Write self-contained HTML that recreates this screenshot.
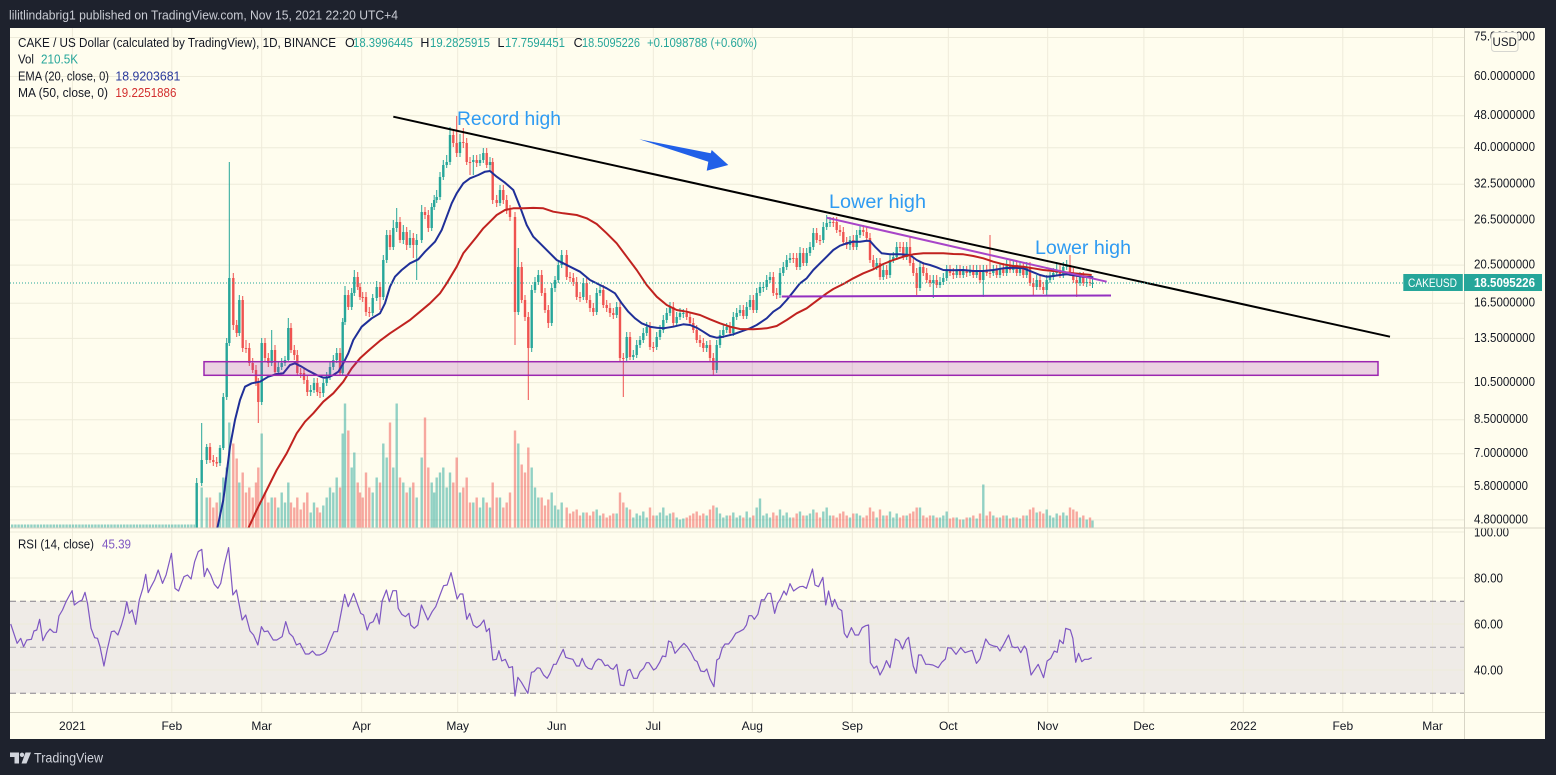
<!DOCTYPE html>
<html><head><meta charset="utf-8">
<style>
html,body{margin:0;padding:0;background:#1e222d;overflow:hidden}
svg{display:block}
text{font-family:"Liberation Sans",sans-serif}
</style></head>
<body>
<svg xmlns="http://www.w3.org/2000/svg" width="1556" height="775" viewBox="0 0 1556 775">
<defs>
<clipPath id="pp"><rect x="10" y="28" width="1454" height="500"/></clipPath>
<clipPath id="rp"><rect x="10" y="528" width="1454" height="184"/></clipPath>
<clipPath id="ra"><rect x="1464" y="528.5" width="81" height="184"/></clipPath>
</defs>
<rect width="1556" height="775" fill="#1e222d"/>
<rect x="10" y="28" width="1535" height="711" fill="#fffdee"/>

<rect x="10" y="601.3" width="1454" height="92" fill="#efebe7"/>

<path d="M10 37.5H1464M10 76.5H1464M10 115.7H1464M10 147.7H1464M10 184.2H1464M10 220H1464M10 265.1H1464M10 303.2H1464M10 338.4H1464M10 382.6H1464M10 419.7H1464M10 453.7H1464M10 486.7H1464M10 519.9H1464M10 532H1464M10 578H1464M10 624H1464M10 670H1464" stroke="#eeebda" stroke-width="1" fill="none"/>
<path d="M72.4 28V712M171.8 28V712M261.7 28V712M361.7 28V712M457.7 28V712M556.7 28V712M653.3 28V712M752.3 28V712M852.3 28V712M948.3 28V712M1047.7 28V712M1143.9 28V712M1243.3 28V712M1342.8 28V712M1432.6 28V712" stroke="#eeebda" stroke-width="1" fill="none"/>

<path d="M10 601.3H1464M10 693.3H1464" stroke="#85828c" stroke-width="1" stroke-dasharray="6 4" fill="none"/>
<path d="M10 647.3H1464" stroke="#a9a6ad" stroke-width="1" stroke-dasharray="6 4" fill="none"/>

<g clip-path="url(#pp)">
<!-- volume -->
<line x1="11" y1="526" x2="195" y2="526" stroke="rgba(38,166,154,0.5)" stroke-width="3" stroke-dasharray="2.4 0.8"/>
<path fill="none" stroke="rgba(38,166,154,0.5)" stroke-width="2.4" d="M196.7 527.5V502.5M201.7 527.5V487.5M206.7 527.5V497.5M220 527.5V492.5M223.3 527.5V477.5M226.7 527.5V467.5M229.3 527.5V422.5M239.3 527.5V482.5M261.7 527.5V433.5M271.7 527.5V497.5M278.3 527.5V507.5M281.7 527.5V492.5M285 527.5V502.5M288.3 527.5V482.5M310.7 527.5V512.5M314 527.5V502.5M323.3 527.5V505.5M326.7 527.5V497.5M330 527.5V487.5M333.3 527.5V492.5M336.7 527.5V477.5M342.7 527.5V433.5M345 527.5V403.5M351.7 527.5V467.5M354.3 527.5V452.5M372.7 527.5V492.5M376.7 527.5V477.5M383.3 527.5V443.5M386.7 527.5V457.5M393.3 527.5V467.5M396.7 527.5V403.5M403.3 527.5V482.5M410 527.5V487.5M416.7 527.5V497.5M421.7 527.5V457.5M431.7 527.5V482.5M434.2 527.5V492.5M436.7 527.5V477.5M440 527.5V472.5M443.3 527.5V467.5M446.7 527.5V487.5M450 527.5V472.5M460 527.5V492.5M473.3 527.5V502.5M480 527.5V507.5M483.3 527.5V497.5M490 527.5V507.5M500 527.5V497.5M518.3 527.5V443.5M531.7 527.5V467.5M535 527.5V487.5M538.3 527.5V497.5M551.7 527.5V492.5M555 527.5V505.5M558.3 527.5V509.5M561.7 527.5V502.5M583.3 527.5V512.5M596.7 527.5V509.5M600 527.5V515.5M616.7 527.5V513.5M626.7 527.5V507.5M633.3 527.5V517.5M636.7 527.5V513.5M640 527.5V515.5M643.3 527.5V511.5M646.7 527.5V517.5M656.7 527.5V515.5M660 527.5V512.5M663.3 527.5V507.5M666.7 527.5V515.5M670 527.5V513.5M676.7 527.5V517.5M680 527.5V519.5M683.3 527.5V518.5M706.7 527.5V515.5M716.7 527.5V507.5M720 527.5V513.5M723.3 527.5V517.5M726.7 527.5V515.5M733.3 527.5V512.5M736.7 527.5V517.5M740 527.5V515.5M746.7 527.5V511.5M750 527.5V517.5M756.7 527.5V507.5M760 527.5V498.5M763.3 527.5V515.5M766.7 527.5V513.5M770 527.5V517.5M780 527.5V509.5M783.3 527.5V515.5M786.7 527.5V512.5M790 527.5V517.5M800 527.5V511.5M806.7 527.5V515.5M810 527.5V513.5M813.3 527.5V509.5M823.3 527.5V511.5M826.7 527.5V507.5M830 527.5V515.5M850 527.5V517.5M856.7 527.5V513.5M860 527.5V515.5M876.7 527.5V517.5M883.3 527.5V515.5M890 527.5V511.5M893.3 527.5V517.5M896.7 527.5V513.5M906.7 527.5V515.5M920 527.5V507.5M933.3 527.5V515.5M940 527.5V517.5M943.3 527.5V515.5M946.7 527.5V511.5M956.7 527.5V517.5M963.3 527.5V519.5M970 527.5V517.5M976.7 527.5V518.5M983.3 527.5V484.5M993.3 527.5V515.5M1000 527.5V517.5M1006.7 527.5V515.5M1013.3 527.5V517.5M1020 527.5V518.5M1026.7 527.5V515.5M1036.7 527.5V512.5M1046.7 527.5V509.5M1050 527.5V515.5M1053.3 527.5V517.5M1056.7 527.5V513.5M1063.3 527.5V512.5M1066.7 527.5V515.5M1080 527.5V517.5M1086.7 527.5V519.5M1092.5 527.5V520.5"/>
<path fill="none" stroke="rgba(239,83,80,0.5)" stroke-width="2.4" d="M210 527.5V497.5M213.3 527.5V507.5M216.7 527.5V502.5M233.3 527.5V443.5M236.7 527.5V458.5M242.7 527.5V472.5M246 527.5V492.5M249.3 527.5V487.5M252.7 527.5V497.5M256 527.5V482.5M258.3 527.5V467.5M265 527.5V492.5M268.3 527.5V502.5M275 527.5V497.5M291 527.5V502.5M294.3 527.5V507.5M297.3 527.5V497.5M300.7 527.5V509.5M304 527.5V502.5M307.3 527.5V492.5M317.3 527.5V507.5M320 527.5V512.5M340 527.5V487.5M348.3 527.5V430.5M357.7 527.5V482.5M360 527.5V492.5M362.7 527.5V497.5M366 527.5V472.5M369.3 527.5V487.5M380 527.5V482.5M390 527.5V422.5M400 527.5V477.5M406.7 527.5V492.5M413.3 527.5V482.5M425 527.5V417.5M428.3 527.5V467.5M453.3 527.5V482.5M456.7 527.5V457.5M463.3 527.5V487.5M466.7 527.5V477.5M470 527.5V502.5M476.7 527.5V497.5M486.7 527.5V502.5M492.7 527.5V482.5M496.7 527.5V497.5M503.3 527.5V507.5M506.7 527.5V502.5M510 527.5V492.5M515 527.5V430.5M521.7 527.5V464.5M525 527.5V472.5M528.3 527.5V447.5M541.7 527.5V497.5M545 527.5V505.5M548.3 527.5V499.5M566.7 527.5V507.5M570 527.5V513.5M573.3 527.5V511.5M576.7 527.5V509.5M580 527.5V515.5M586.7 527.5V512.5M590 527.5V515.5M593.3 527.5V511.5M603.3 527.5V513.5M606.7 527.5V517.5M610 527.5V515.5M613.3 527.5V513.5M620 527.5V492.5M623.3 527.5V502.5M630 527.5V509.5M650 527.5V507.5M653.3 527.5V515.5M673.3 527.5V512.5M686.7 527.5V517.5M690 527.5V515.5M693.3 527.5V513.5M696.7 527.5V511.5M700 527.5V515.5M703.3 527.5V513.5M710 527.5V509.5M713.3 527.5V505.5M730 527.5V515.5M743.3 527.5V517.5M753.3 527.5V515.5M773.3 527.5V512.5M776.7 527.5V515.5M793.3 527.5V517.5M796.7 527.5V513.5M803.3 527.5V515.5M816.7 527.5V512.5M820 527.5V517.5M833.3 527.5V515.5M836.7 527.5V517.5M840 527.5V513.5M843.3 527.5V511.5M846.7 527.5V515.5M853.3 527.5V513.5M863.3 527.5V517.5M866.7 527.5V515.5M870 527.5V507.5M873.3 527.5V511.5M880 527.5V509.5M886.7 527.5V515.5M900 527.5V517.5M903.3 527.5V515.5M910 527.5V513.5M913.3 527.5V511.5M916.7 527.5V507.5M923.3 527.5V515.5M926.7 527.5V517.5M930 527.5V515.5M936.7 527.5V517.5M950 527.5V518.5M953.3 527.5V517.5M960 527.5V519.5M966.7 527.5V517.5M973.3 527.5V515.5M980 527.5V513.5M986.7 527.5V515.5M990 527.5V511.5M996.7 527.5V517.5M1003.3 527.5V515.5M1010 527.5V518.5M1016.7 527.5V517.5M1023.3 527.5V515.5M1030 527.5V509.5M1033.3 527.5V507.5M1040 527.5V511.5M1043.3 527.5V513.5M1060 527.5V515.5M1070 527.5V507.5M1073.3 527.5V509.5M1076.7 527.5V511.5M1083.3 527.5V515.5M1090 527.5V517.5"/>

<!-- green candles -->
<path fill="none" stroke="#26a69a" stroke-width="1" d="M196.7 478V540M201.7 423V486M206.7 444V464M220 445V466M223.3 393V450M226.7 338V400M229.3 162V346M239.3 295V336M261.7 338V405M271.7 330V366M278.3 362V376M281.7 358V370M285 356V366M288.3 318V362M310.7 385V396M314 378V393M323.3 379V397M326.7 372V386M330 362V380M333.3 355V370M336.7 348V363M342.7 318V376M345 286V325M351.7 288V310M354.3 270V296M372.7 294V316M376.7 281V301M383.3 255V300M386.7 230V263M393.3 220V250M396.7 208V232M403.3 225V244M410 230V248M416.7 234V280M421.7 205V243M431.7 203V231M434.2 195V210M436.7 190V203M440 172V200M443.3 160V180M446.7 155V168M450 127V165M460 134V157M473.3 155V175M480 154V166M483.3 148V163M490 157V170M500 185V206M518.3 248V315M531.7 285V352M535 277V293M538.3 270V285M551.7 283V326M555 276V292M558.3 260V283M561.7 250V268M583.3 278V300M596.7 288V315M600 285V296M616.7 302V318M626.7 332V362M633.3 350V360M636.7 340V358M640 336V348M643.3 328V343M646.7 322V336M656.7 332V350M660 325V340M663.3 315V333M666.7 308V323M670 302V316M676.7 312V326M680 308V320M683.3 309V318M706.7 341V352M716.7 340V373M720 330V348M723.3 325V338M726.7 323V333M733.3 312V336M736.7 308V320M740 305V316M746.7 302V319M750 295V310M756.7 288V313M760 282V296M763.3 282V292M766.7 275V290M770 272V283M780 268V298M783.3 262V276M786.7 255V270M790 253V263M800 247V270M806.7 248V266M810 242V256M813.3 228V250M823.3 222V243M826.7 215V230M830 217V227M850 236V250M856.7 230V250M860 225V238M876.7 258V270M883.3 265V280M890 255V278M893.3 252V263M896.7 242V260M906.7 242V260M920 262V291M933.3 275V298M940 277V288M943.3 273V285M946.7 265V281M956.7 265V278M963.3 266V278M970 265V276M976.7 265V278M983.3 265V297M993.3 265V276M1000 263V278M1006.7 260V276M1013.3 260V273M1020 262V276M1026.7 262V278M1036.7 275V290M1046.7 275V296M1050 272V283M1053.3 268V280M1056.7 262V276M1063.3 262V278M1066.7 260V270M1080 272V286M1086.7 277V287M1092.5 278V288"/>
<path fill="none" stroke="#26a69a" stroke-width="2.4" d="M196.7 483V540M201.7 460V483M206.7 447V460M220 448V463M223.3 397V448M226.7 343V397M229.3 278V343M239.3 300V333M261.7 343V402M271.7 350V363M278.3 367V372M281.7 363V367M285 360V363M288.3 328V360M310.7 390V392M314 383V390M323.3 383V393M326.7 377V383M330 367V377M333.3 360V367M336.7 353V360M342.7 322V373M345 295V322M351.7 293V307M354.3 277V293M372.7 298V313M376.7 287V298M383.3 260V297M386.7 235V260M393.3 228V247M396.7 222V228M403.3 232V240M410 238V245M416.7 240V245M421.7 212V240M431.7 207V228M434.2 200V207M436.7 197V200M440 177V197M443.3 165V177M446.7 162V165M450 135V162M460 142V153M473.3 160V162M480 160V163M483.3 153V160M490 162V165M500 190V203M518.3 267V312M531.7 290V348M535 282V290M538.3 275V282M551.7 288V323M555 280V288M558.3 265V280M561.7 255V265M583.3 283V297M596.7 293V312M600 290V293M616.7 307V315M626.7 337V358M633.3 355V357M636.7 345V355M640 340V345M643.3 333V340M646.7 327V333M656.7 337V347M660 330V337M663.3 320V330M666.7 313V320M670 307V313M676.7 317V323M680 313V317M683.3 313V314M706.7 345V348M716.7 345V370M720 335V345M723.3 330V335M726.7 327V330M733.3 317V333M736.7 313V317M740 310V313M746.7 307V316M750 300V307M756.7 293V310M760 287V293M763.3 287V288M766.7 280V287M770 277V280M780 273V295M783.3 267V273M786.7 260V267M790 258V260M800 253V267M806.7 253V263M810 247V253M813.3 233V247M823.3 227V240M826.7 223V227M830 222V223M850 240V245M856.7 235V247M860 230V235M876.7 263V267M883.3 270V277M890 260V275M893.3 257V260M896.7 247V257M906.7 247V257M920 267V288M933.3 280V283M940 282V285M943.3 278V282M946.7 270V278M956.7 270V275M963.3 271V275M970 270V273M976.7 270V275M983.3 270V280M993.3 270V273M1000 268V275M1006.7 265V273M1013.3 265V270M1020 267V273M1026.7 267V275M1036.7 280V287M1046.7 280V290M1050 277V280M1053.3 273V277M1056.7 270V273M1063.3 267V275M1066.7 265V267M1080 277V283M1086.7 282V283M1092.5 283V284"/>
<!-- red candles -->
<path fill="none" stroke="#ef5350" stroke-width="1" d="M210 443V463M213.3 455V466M216.7 457V467M233.3 273V330M236.7 320V337M242.7 296V352M246 340V353M249.3 343V366M252.7 358V373M256 365V386M258.3 378V423M265 338V361M268.3 353V367M275 345V375M291 323V353M294.3 345V360M297.3 350V376M300.7 368V378M304 368V384M307.3 375V396M317.3 378V396M320 387V398M340 348V376M348.3 290V310M357.7 272V290M360 283V300M362.7 292V302M366 292V316M369.3 307V317M380 282V310M390 230V250M400 217V243M406.7 227V250M413.3 233V258M425 207V219M428.3 210V232M453.3 130V147M456.7 116V157M463.3 128V148M466.7 138V165M470 157V175M476.7 155V167M486.7 148V168M492.7 158V204M496.7 195V207M503.3 185V204M506.7 195V214M510 205V221M515 212V345M521.7 262V303M525 295V321M528.3 312V400M541.7 270V296M545 288V313M548.3 305V328M566.7 250V280M570 272V282M573.3 273V286M576.7 277V300M580 292V302M586.7 278V303M590 295V312M593.3 303V316M603.3 285V308M606.7 300V312M610 303V317M613.3 308V319M620 302V362M623.3 353V397M630 332V360M650 322V350M653.3 342V352M673.3 302V326M686.7 308V320M690 312V326M693.3 318V333M696.7 325V343M700 335V347M703.3 338V352M710 340V362M713.3 353V376M730 322V336M743.3 305V319M753.3 295V313M773.3 272V296M776.7 288V299M793.3 253V263M796.7 253V270M803.3 248V266M816.7 228V243M820 235V245M833.3 217V227M836.7 217V233M840 225V236M843.3 227V245M846.7 237V249M853.3 235V250M863.3 225V236M866.7 227V241M870 233V263M873.3 255V270M880 258V280M886.7 265V279M900 242V252M903.3 242V260M910 236V266M913.3 258V276M916.7 268V295M923.3 262V276M926.7 268V283M930 275V287M936.7 275V288M950 265V276M953.3 268V279M960 265V278M966.7 266V277M973.3 265V278M980 265V283M986.7 265V276M990 235V278M996.7 265V278M1003.3 263V276M1010 260V273M1016.7 260V276M1023.3 262V278M1030 262V286M1033.3 278V296M1040 275V290M1043.3 282V294M1060 265V278M1070 255V276M1073.3 268V283M1076.7 275V297M1083.3 272V286M1090 277V286"/>
<path fill="none" stroke="#ef5350" stroke-width="2.4" d="M210 447V460M213.3 460V462M216.7 462V463.5M233.3 278V325M236.7 325V333M242.7 300V348M246 348V349M249.3 348V363M252.7 363V370M256 370V383M258.3 383V402M265 343V358M268.3 358V363M275 350V372M291 328V350M294.3 350V355M297.3 355V373M300.7 373V374M304 373V380M307.3 380V392M317.3 383V392M320 392V393M340 353V373M348.3 295V307M357.7 277V287M360 287V297M362.7 297V298M366 297V312M369.3 312V313M380 287V297M390 235V247M400 222V240M406.7 232V245M413.3 238V245M425 212V215M428.3 215V228M453.3 135V143M456.7 143V153M463.3 142V143M466.7 143V162M470 162V163M476.7 160V163M486.7 153V165M492.7 162V200M496.7 200V203M503.3 190V200M506.7 200V210M510 210V217M515 217V312M521.7 267V300M525 300V317M528.3 317V348M541.7 275V293M545 293V310M548.3 310V323M566.7 255V277M570 277V278M573.3 278V282M576.7 282V297M580 297V298M586.7 283V300M590 300V308M593.3 308V312M603.3 290V305M606.7 305V308M610 308V313M613.3 313V315M620 307V358M623.3 358V359M630 337V357M650 327V347M653.3 347V348M673.3 307V323M686.7 313V317M690 317V323M693.3 323V330M696.7 330V340M700 340V343M703.3 343V348M710 345V358M713.3 358V370M730 327V333M743.3 310V316M753.3 300V310M773.3 277V293M776.7 293V295M793.3 258V259M796.7 258V267M803.3 253V263M816.7 233V240M820 240V241M833.3 222V223M836.7 222V230M840 230V232M843.3 232V242M846.7 242V245M853.3 240V247M863.3 230V232M866.7 232V238M870 238V260M873.3 260V267M880 263V277M886.7 270V275M900 247V248M903.3 247V257M910 247V263M913.3 263V273M916.7 273V288M923.3 267V273M926.7 273V280M930 280V283M936.7 280V285M950 270V273M953.3 273V275M960 270V275M966.7 271V273M973.3 270V275M980 270V280M986.7 270V273M990 273V274M996.7 270V275M1003.3 268V273M1010 265V270M1016.7 265V273M1023.3 267V275M1030 267V283M1033.3 283V287M1040 280V287M1043.3 287V290M1060 270V275M1070 265V273M1073.3 273V280M1076.7 280V283M1083.3 277V283M1090 282V283"/>

<!-- EMA 20 -->
<polyline fill="none" stroke="#1f2f98" stroke-width="2" stroke-linejoin="round" points="217.3,528.3 223.3,500 230,446.7 235,420 240,400 245,386.7 251.7,383.3 260,381.7 268.3,376.7 276.7,374 283.3,373.3 290,365 295,363.3 301.7,366.7 308.3,370.7 316.7,375 323.3,377.7 328.3,377.3 333.3,375 338.3,371.7 343.3,363.3 348.3,353.3 353.3,340 361.7,326.7 371.7,318.3 380,313.3 385,303.3 390,286.7 395,276.7 401.7,270 410,263.3 418.3,259.3 425,251.7 435,241.7 441.7,230 446.7,216.7 451.7,203.3 456.7,193.3 463.3,183.3 470,178.3 478.3,175 485,171.7 490,171 496.7,176.7 505,182.7 513.3,190 520,206.7 526.7,225 533.3,236.7 540,243.3 550,253.3 556.7,260 563.3,263.3 570,266.7 580,271.7 590,280 600,285 606.7,288.3 615,293.3 621.7,303.3 628.3,311.7 635,318.3 641.7,323.3 650,326.7 656.7,327.7 663.3,328.3 673.3,326.7 683.3,324.3 690,325 696.7,327.7 703.3,331.7 710,336 716.7,337.7 723.3,336.7 733.3,334.3 743.3,330.7 750,328.3 756.7,325 766.7,318.3 773.3,311.7 780,307.3 786.7,300 793.3,291.7 800,283.3 806.7,278.3 813.3,270 820,263.3 826.7,256.7 833.3,250 840,245.7 846.7,243.3 853.3,241.7 860,241.7 866.7,240.7 870,241 875,246.7 881.7,253.3 890,254.3 900,254.3 910,255 916.7,260 923.3,263.3 930,265 936.7,267.3 943.3,270 953.3,270.3 963.3,270 973.3,271 983.3,271 993.3,270 1003.3,268.3 1013.3,267.7 1023.3,268.3 1033.3,272.3 1040,275 1046.7,276.7 1053.3,276 1060,275 1066.7,274.3 1076.7,275.7 1083.3,276.7 1093.3,277.3"/>
<!-- MA 50 -->
<polyline fill="none" stroke="#c0221f" stroke-width="2" stroke-linejoin="round" points="248.3,528.3 256.7,510 266.7,490 276.7,470 286.7,453.3 296.7,433.3 305,421.7 313.3,413.3 323.3,401.7 333.3,393.3 343.3,381.7 351.7,368.3 360,358.3 370,349.3 380,340.7 390,333.3 400,326.7 410,320 420,311.7 430,303.3 440,293.3 446.7,283.3 456.7,266.7 463.3,253.3 470,245 476.7,236.7 483.3,228.3 490,221.7 496.7,215 505,210 513.3,208.3 523.3,208.3 533.3,207.9 543.3,208.3 553.3,211.7 563.3,213.3 576.7,215 586.7,218.3 596.7,224 606.7,233.3 616.7,243.3 626.7,256.7 636.7,270 646.7,285 656.7,296.7 666.7,305 676.7,310 686.7,311.7 700,315 710,319.3 720,323.3 730,326.7 740,329 753.3,329.3 766.7,328.3 776.7,326 786.7,320 796.7,313.3 806.7,308.3 813.3,303.3 820,298.3 826.7,293.3 833.3,289 843.3,284 853.3,278.3 863.3,273.3 873.3,269.3 883.3,264 893.3,260 903.3,256.7 913.3,254.3 923.3,253.3 933.3,253.3 943.3,253.3 953.3,254 963.3,254.3 973.3,256 983.3,258.3 993.3,261.7 1003.3,264.3 1013.3,266 1023.3,266.7 1033.3,268.3 1043.3,270 1053.3,271 1063.3,272 1073.3,273.3 1083.3,274.3 1091.7,275"/>
</g>

<!-- drawings -->
<rect x="204" y="361.7" width="1174" height="13.6" fill="rgba(156,39,176,0.2)" stroke="#9c27b0" stroke-width="1.5"/>
<line x1="393.3" y1="116.7" x2="1390" y2="336.7" stroke="#000" stroke-width="2"/>
<line x1="826.7" y1="217.7" x2="1106.7" y2="281.7" stroke="#a845c8" stroke-width="2"/>
<line x1="781.7" y1="296.5" x2="1111" y2="295.5" stroke="#9430c0" stroke-width="2"/>
<polygon points="639.3,139.3 710.7,153.3 711.7,150 728.3,165 706.7,170.7 708.3,161.7" fill="#2160e8"/>
<text x="457" y="125" font-size="19.5" fill="#2f9bf2" textLength="104" lengthAdjust="spacingAndGlyphs">Record high</text>
<text x="829" y="208" font-size="19.5" fill="#2f9bf2" textLength="97" lengthAdjust="spacingAndGlyphs">Lower high</text>
<text x="1035" y="254" font-size="19.5" fill="#2f9bf2" textLength="96" lengthAdjust="spacingAndGlyphs">Lower high</text>

<line x1="10" y1="283" x2="1403" y2="283" stroke="#26a69a" stroke-width="1" stroke-dasharray="1 2"/>

<!-- RSI line -->
<g clip-path="url(#rp)" fill="none" stroke="#7e57c2" stroke-width="1.2" stroke-linejoin="round">
<polyline vector-effect="non-scaling-stroke" transform="translate(0,525) scale(0.357143,0.333333)" points="30,297 48,355 58,340 66,365 75,345 88,343 95,318 103,315 111,283 120,347 130,325 140,312 150,322 158,322 165,273 175,255 185,230 195,210 202,197 208,240 220,230 230,225 238,202 245,235 255,310 265,338 273,340 280,365 291,423 300,375 312,320 320,318 330,330 340,300 348,270 355,230 362,265 370,255 380,298 390,225 400,190 408,148 415,203 423,185 433,165 443,135 455,175 465,150 480,85 490,190 500,198 515,155 525,150 535,162 545,110 555,80 565,73 572,155 580,130 590,150 600,178 610,190 618,175 628,120 640,68 652,210 662,195 678,285 688,270 700,318 710,330 722,360 732,305 740,320 750,318 765,345 775,345 790,335 800,290 810,325 820,335 830,360 840,355 855,387 865,387 875,378 885,390 895,390 905,385 913,378 920,358 935,320 945,320 965,208 975,245 990,205 1010,265 1018,270 1028,315 1035,295 1045,290 1055,265 1062,297 1070,228 1082,195 1090,230 1100,197 1110,197 1115,250 1125,268 1135,275 1145,265 1150,300 1160,310 1170,300 1180,240 1190,265 1198,285 1210,260 1220,245 1232,210 1242,182 1252,180 1263,143 1272,185 1280,222 1288,207 1296,207 1307,283 1315,265 1325,300 1335,308 1345,300 1355,285 1362,320 1370,310 1380,405 1390,403 1397,377 1405,408 1415,403 1425,428 1435,425 1442,513 1450,457 1460,472 1478,505 1488,442 1495,440 1505,428"/>
<polyline vector-effect="non-scaling-stroke" transform="translate(540,525) scale(0.357143,0.333333)" points="-7,428 0,430 10,450 20,460 28,445 38,418 45,418 55,395 65,373 72,397 80,400 92,403 102,423 110,423 118,400 127,422 135,430 145,433 155,410 163,402 172,405 182,422 190,420 198,430 205,433 215,418 225,480 235,482 245,437 252,433 262,460 272,460 280,440 290,430 298,413 305,413 318,435 325,430 335,412 343,393 352,395 360,348 368,352 378,385 390,370 403,355 412,365 423,383 433,405 440,410 450,438 460,440 467,432 476,462 487,485 495,405 502,400 510,370 518,357 528,357 538,343 548,325 558,320 570,313 578,300 585,272 593,272 600,283 610,268 620,224 628,225 638,205 646,205 657,265 665,235 673,222 683,198 690,210 700,176 710,198 720,190 728,185 736,184 746,190 755,160 763,132 770,180 780,185 792,157 800,240 808,198 818,245 825,223 835,250 845,257 852,325 860,338 872,308 882,330 892,330 902,308 912,302 920,300 925,413 935,430 943,423 952,450 962,430 970,407 980,428 995,342 1005,348 1015,372 1025,345 1032,337 1045,423 1053,445 1060,390 1068,390 1080,418 1088,418 1100,420 1115,428 1125,412 1135,402 1142,368 1152,370 1165,388 1178,368 1190,383 1198,380 1210,376 1222,415 1232,402 1248,342 1258,358 1270,363 1280,365 1288,378 1300,355 1312,330 1322,365 1330,368 1338,366 1346,383 1356,363 1362,372 1375,450 1395,418 1410,458 1420,408 1430,400 1440,378 1448,382 1455,345 1465,356 1472,310 1485,315 1492,340 1500,412 1508,385 1517,410 1525,403 1535,403 1545,398"/>
</g>

<path d="M10 528H1545M10 712.5H1545M1464.5 28V739" stroke="#d8d5c6" stroke-width="1" fill="none"/>

<g font-size="13" fill="#131722">
<text x="1474" y="40.5" textLength="61" lengthAdjust="spacingAndGlyphs">75.0000000</text>
<text x="1474" y="80" textLength="61" lengthAdjust="spacingAndGlyphs">60.0000000</text>
<text x="1474" y="119.2" textLength="61" lengthAdjust="spacingAndGlyphs">48.0000000</text>
<text x="1474" y="151.2" textLength="61" lengthAdjust="spacingAndGlyphs">40.0000000</text>
<text x="1474" y="187.7" textLength="61" lengthAdjust="spacingAndGlyphs">32.5000000</text>
<text x="1474" y="223.5" textLength="61" lengthAdjust="spacingAndGlyphs">26.5000000</text>
<text x="1474" y="268.6" textLength="61" lengthAdjust="spacingAndGlyphs">20.5000000</text>
<text x="1474" y="306.7" textLength="61" lengthAdjust="spacingAndGlyphs">16.5000000</text>
<text x="1474" y="341.9" textLength="61" lengthAdjust="spacingAndGlyphs">13.5000000</text>
<text x="1474" y="386.1" textLength="61" lengthAdjust="spacingAndGlyphs">10.5000000</text>
<text x="1474" y="423.2" textLength="54" lengthAdjust="spacingAndGlyphs">8.5000000</text>
<text x="1474" y="457.2" textLength="54" lengthAdjust="spacingAndGlyphs">7.0000000</text>
<text x="1474" y="490.2" textLength="54" lengthAdjust="spacingAndGlyphs">5.8000000</text>
<text x="1474" y="523.4" textLength="54" lengthAdjust="spacingAndGlyphs">4.8000000</text>
</g>
<g clip-path="url(#ra)" font-size="13" fill="#131722">
<text x="1474" y="536.5" textLength="35" lengthAdjust="spacingAndGlyphs">100.00</text>
<text x="1474" y="582.5" textLength="29" lengthAdjust="spacingAndGlyphs">80.00</text>
<text x="1474" y="628.5" textLength="29" lengthAdjust="spacingAndGlyphs">60.00</text>
<text x="1474" y="674.5" textLength="29" lengthAdjust="spacingAndGlyphs">40.00</text>
</g>

<rect x="1491.5" y="32.5" width="26.5" height="19" rx="3" fill="#fffdee" stroke="#d6d6d0" stroke-width="1"/>
<text x="1504.7" y="46" font-size="11.5" fill="#131722" text-anchor="middle">USD</text>

<rect x="1403.3" y="274" width="59.5" height="17" fill="#26a69a"/>
<text x="1408" y="287" font-size="12" fill="#ffffff" textLength="49" lengthAdjust="spacingAndGlyphs">CAKEUSD</text>
<rect x="1464" y="274" width="78" height="17" fill="#26a69a"/>
<text x="1474" y="287" font-size="13" fill="#ffffff" font-weight="bold" textLength="61" lengthAdjust="spacingAndGlyphs">18.5095226</text>

<g font-size="12" fill="#131722" text-anchor="middle">
<text x="72.4" y="730">2021</text>
<text x="171.8" y="730">Feb</text>
<text x="261.7" y="730">Mar</text>
<text x="361.7" y="730">Apr</text>
<text x="457.7" y="730">May</text>
<text x="556.7" y="730">Jun</text>
<text x="653.3" y="730">Jul</text>
<text x="752.3" y="730">Aug</text>
<text x="852.3" y="730">Sep</text>
<text x="948.3" y="730">Oct</text>
<text x="1047.7" y="730">Nov</text>
<text x="1143.9" y="730">Dec</text>
<text x="1243.3" y="730">2022</text>
<text x="1342.8" y="730">Feb</text>
<text x="1432.6" y="730">Mar</text>
</g>

<text x="9" y="19.5" font-size="13" fill="#c9ccd4" textLength="389" lengthAdjust="spacingAndGlyphs">lilitlindabrig1 published on TradingView.com, Nov 15, 2021 22:20 UTC+4</text>

<g font-size="12.5">
<text x="18" y="47" fill="#131722" textLength="318" lengthAdjust="spacingAndGlyphs">CAKE / US Dollar (calculated by TradingView), 1D, BINANCE</text>
<text x="345" y="47" fill="#131722">O</text><text x="353" y="47" fill="#26a69a" textLength="60" lengthAdjust="spacingAndGlyphs">18.3996445</text>
<text x="420.4" y="47" fill="#131722">H</text><text x="430" y="47" fill="#26a69a" textLength="60" lengthAdjust="spacingAndGlyphs">19.2825915</text>
<text x="497.5" y="47" fill="#131722">L</text><text x="505" y="47" fill="#26a69a" textLength="60" lengthAdjust="spacingAndGlyphs">17.7594451</text>
<text x="573.6" y="47" fill="#131722">C</text><text x="582" y="47" fill="#26a69a" textLength="58" lengthAdjust="spacingAndGlyphs">18.5095226</text>
<text x="647" y="47" fill="#26a69a" textLength="110" lengthAdjust="spacingAndGlyphs">+0.1098788 (+0.60%)</text>
<text x="18" y="63.5" fill="#131722" textLength="16" lengthAdjust="spacingAndGlyphs">Vol</text>
<text x="41" y="63.5" fill="#26a69a" textLength="37" lengthAdjust="spacingAndGlyphs">210.5K</text>
<text x="18" y="80.5" fill="#131722" textLength="91" lengthAdjust="spacingAndGlyphs">EMA (20, close, 0)</text>
<text x="115.4" y="80.5" fill="#2a3a9c" textLength="65" lengthAdjust="spacingAndGlyphs">18.9203681</text>
<text x="18" y="96.8" fill="#131722" textLength="90" lengthAdjust="spacingAndGlyphs">MA (50, close, 0)</text>
<text x="115.4" y="96.8" fill="#d32f2f" textLength="61" lengthAdjust="spacingAndGlyphs">19.2251886</text>
<text x="18" y="548.5" fill="#131722" textLength="76" lengthAdjust="spacingAndGlyphs">RSI (14, close)</text>
<text x="102" y="548.5" fill="#7e57c2" textLength="29" lengthAdjust="spacingAndGlyphs">45.39</text>
</g>

<g fill="#d1d4dc">
<path d="M10 752.5h9v11h-4.5v-6.5h-4.5z"/>
<circle cx="22" cy="754.8" r="2.2"/>
<path d="M25.5 752.5h5.5l-4.5 11h-5z"/>
</g>
<text x="34" y="762.5" font-size="13.5" fill="#d1d4dc" textLength="69" lengthAdjust="spacingAndGlyphs">TradingView</text>
</svg>
</body></html>
